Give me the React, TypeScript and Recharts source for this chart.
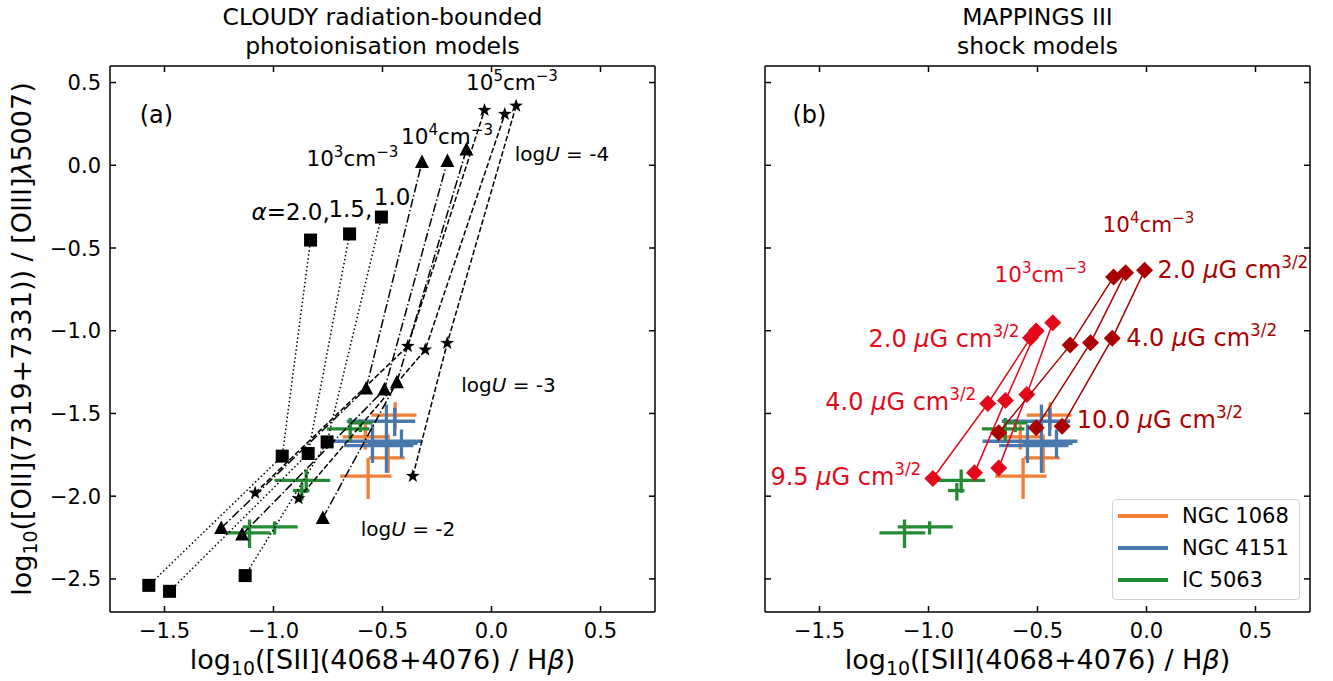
import React from 'react';
import { ScatterChart, Scatter, XAxis, YAxis, ErrorBar, ReferenceDot, Legend } from 'recharts';

const FONT = '"DejaVu Sans", "Liberation Sans", sans-serif';
const ORANGE = '#F07E35';
const BLUE = '#4878AE';
const GREEN = '#238B32';
const RED = '#E4081A';
const DARKRED = '#AA0000';

// axes
const xTicks = [-1.5, -1.0, -0.5, 0.0, 0.5];
const yTicks = [-2.5, -2.0, -1.5, -1.0, -0.5, 0.0, 0.5];
const xDomain = [-1.75, 0.75];
const yDomain = [-2.7, 0.6];

// observations: NGC 1068
const n1068X = [-0.566, -0.474, -0.579, -0.442];
const n1068Y = [-1.879, -1.769, -1.642, -1.510];
const n1068XLo = [0.128, 0.087, 0.104, 0.108];
const n1068XHi = [0.107, 0.076, 0.094, 0.098];
const n1068YLo = [0.138, 0.09, 0.076, 0.087];
const n1068YHi = [0.11, 0.142, 0.075, 0.078];
// NGC 4151
const n4151X = [-0.482, -0.444, -0.546, -0.413];
const n4151Y = [-1.668, -1.547, -1.694, -1.681];
const n4151XLo = [0.27, 0.22, 0.13, 0.156];
const n4151XHi = [0.165, 0.094, 0.188, 0.074];
const n4151YLo = [0.191, 0.09, 0.105, 0.088];
const n4151YHi = [0.222, 0.081, 0.127, 0.084];
// IC 5063
const ic5063X = [-1.110, -0.995, -0.850, -0.870, -0.648, -0.602];
const ic5063Y = [-2.222, -2.186, -1.905, -1.966, -1.593, -1.557];
const ic5063XLo = [0.115, 0.146, 0.145, 0.041, 0.107, 0.043];
const ic5063XHi = [0.095, 0.106, 0.11, 0.035, 0.088, 0.056];
const ic5063YLo = [0.091, 0.046, 0.075, 0.06, 0.075, 0.056];
const ic5063YHi = [0.081, 0.034, 0.066, 0.046, 0.066, 0.021];

// CLOUDY tracks (logU = -2, -3, -4)
const alpha20X = [-1.572, -0.960, -0.830];
const alpha20Y = [-2.539, -1.758, -0.452];
const alpha15X = [-1.477, -0.841, -0.651];
const alpha15Y = [-2.575, -1.742, -0.415];
const alpha10X = [-1.130, -0.754, -0.505];
const alpha10Y = [-2.480, -1.672, -0.313];
const tri1X = [-1.240, -0.575, -0.319];
const tri1Y = [-2.192, -1.349, 0.020];
const tri2X = [-1.144, -0.491, -0.202];
const tri2Y = [-2.232, -1.355, 0.026];
const tri3X = [-0.774, -0.434, -0.115];
const tri3Y = [-2.132, -1.311, 0.095];
const star1X = [-1.084, -0.384, -0.032];
const star1Y = [-1.980, -1.093, 0.333];
const star2X = [-0.885, -0.304, 0.061];
const star2Y = [-2.014, -1.115, 0.309];
const star3X = [-0.361, -0.203, 0.113];
const star3Y = [-1.879, -1.075, 0.359];

// MAPPINGS tracks (B = 9.5/10, 4, 2)
const shk3aX = [-0.980, -0.728, -0.532];
const shk3aY = [-1.893, -1.440, -1.043];
const shk3bX = [-0.789, -0.647, -0.506];
const shk3bY = [-1.859, -1.421, -1.002];
const shk3cX = [-0.678, -0.549, -0.430];
const shk3cY = [-1.829, -1.385, -0.952];
const shk4aX = [-0.678, -0.350, -0.151];
const shk4aY = [-1.617, -1.087, -0.675];
const shk4bX = [-0.506, -0.257, -0.096];
const shk4bY = [-1.587, -1.073, -0.649];
const shk4cX = [-0.387, -0.157, -0.009];
const shk4cY = [-1.577, -1.046, -0.635];

const legendNames = ['NGC 1068', 'NGC 4151', 'IC 5063'];
const legendColors = [ORANGE, BLUE, GREEN];

const pts = (xs: number[], ys: number[]) => xs.map((x, i) => ({ x, y: ys[i] }));
const obs = (xs: number[], ys: number[], xl: number[], xh: number[], yl: number[], yh: number[]) =>
  xs.map((x, i) => ({ x, y: ys[i], ex: [xl[i], xh[i]], ey: [yl[i], yh[i]] }));

const obsSets = [
  { data: obs(n1068X, n1068Y, n1068XLo, n1068XHi, n1068YLo, n1068YHi), color: ORANGE },
  { data: obs(n4151X, n4151Y, n4151XLo, n4151XHi, n4151YLo, n4151YHi), color: BLUE },
  { data: obs(ic5063X, ic5063Y, ic5063XLo, ic5063XHi, ic5063YLo, ic5063YHi), color: GREEN },
];

const fmt = (v: number) => (v < 0 ? '\u2212' : '') + Math.abs(v).toFixed(1);

// shapes
const Square = (p: any) => <rect x={p.cx - 6.5} y={p.cy - 6.5} width={13} height={13} fill="#000" />;
const Tri = (p: any) => (
  <polygon points={`${p.cx},${p.cy - 7.5} ${p.cx - 7},${p.cy + 6} ${p.cx + 7},${p.cy + 6}`} fill="#000" />
);
const Star = (p: any) => {
  const r1 = 7.2, r2 = 2.9;
  const a: string[] = [];
  for (let i = 0; i < 10; i++) {
    const r = i % 2 === 0 ? r1 : r2;
    const ang = -Math.PI / 2 + (i * Math.PI) / 5;
    a.push(`${p.cx + r * Math.cos(ang)},${p.cy + r * Math.sin(ang)}`);
  }
  return <polygon points={a.join(' ')} fill="#000" />;
};
const mkDiamond = (c: string) => (p: any) => (
  <polygon points={`${p.cx},${p.cy - 8.5} ${p.cx + 8.5},${p.cy} ${p.cx},${p.cy + 8.5} ${p.cx - 8.5},${p.cy}`} fill={c} />
);
const Empty = () => <g />;

// ticks
const TS = 21;
const BottomTick = (p: any) => (
  <g>
    <line x1={p.x} x2={p.x} y1={p.y} y2={p.y - 6} stroke="#000" strokeWidth={1.5} />
    <text x={p.x} y={p.y + 26} textAnchor="middle" fontSize={TS} fontFamily={FONT} fill="#000">{fmt(p.payload.value)}</text>
  </g>
);
const TopTick = (p: any) => (
  <line x1={p.x} x2={p.x} y1={p.y} y2={p.y + 6} stroke="#000" strokeWidth={1.5} />
);
const LeftTickLabeled = (p: any) => (
  <g>
    <line x1={p.x} x2={p.x + 6} y1={p.y} y2={p.y} stroke="#000" strokeWidth={1.5} />
    <text x={p.x - 9} y={p.y + 7.5} textAnchor="end" fontSize={TS} fontFamily={FONT} fill="#000">{fmt(p.payload.value)}</text>
  </g>
);
const LeftTickPlain = (p: any) => (
  <line x1={p.x} x2={p.x + 6} y1={p.y} y2={p.y} stroke="#000" strokeWidth={1.5} />
);
const RightTick = (p: any) => (
  <line x1={p.x} x2={p.x - 6} y1={p.y} y2={p.y} stroke="#000" strokeWidth={1.5} />
);

type Seg = { t: string; sup?: boolean; sub?: boolean; it?: boolean };
const rich = (segs: Seg[], fs: number) => {
  let shift = 0;
  return segs.map((s, i) => {
    const target = s.sup ? -0.4 * fs : s.sub ? 0.22 * fs : 0;
    const dy = target - shift;
    shift = target;
    return (
      <tspan key={i} dy={dy} fontSize={s.sup || s.sub ? fs * 0.7 : fs} fontStyle={s.it ? 'italic' : 'normal'}>
        {s.t}
      </tspan>
    );
  });
};

type Ann = { x: number; y: number; segs: Seg[]; fs: number; anchor: string; color: string };

const dens = (n: string): Seg[] => [{ t: '10' }, { t: n, sup: true }, { t: 'cm' }, { t: '\u22123', sup: true }];
const logU = (n: string): Seg[] => [{ t: 'log' }, { t: 'U', it: true }, { t: ' = ' + n }];
const bfield = (n: string): Seg[] => [{ t: n + ' ' }, { t: '\u03bc', it: true }, { t: 'G cm' }, { t: '3/2', sup: true }];

const annLeft: Ann[] = [
  { x: -1.537, y: 0.31, segs: [{ t: '(a)' }], fs: 24, anchor: 'middle', color: '#000' },
  { x: -1.101, y: -0.283, segs: [{ t: '\u03b1', it: true }, { t: '=2.0,' }], fs: 23, anchor: 'start', color: '#000' },
  { x: -0.748, y: -0.262, segs: [{ t: '1.5,' }], fs: 23, anchor: 'start', color: '#000' },
  { x: -0.54, y: -0.19, segs: [{ t: '1.0' }], fs: 23, anchor: 'start', color: '#000' },
  { x: -0.638, y: 0.044, segs: dens('3'), fs: 21.5, anchor: 'middle', color: '#000' },
  { x: -0.204, y: 0.178, segs: dens('4'), fs: 21.5, anchor: 'middle', color: '#000' },
  { x: 0.094, y: 0.504, segs: dens('5'), fs: 21.5, anchor: 'middle', color: '#000' },
  { x: 0.323, y: 0.069, segs: logU('-4'), fs: 20, anchor: 'middle', color: '#000' },
  { x: 0.078, y: -1.329, segs: logU('-3'), fs: 20, anchor: 'middle', color: '#000' },
  { x: -0.383, y: -2.2, segs: logU('-2'), fs: 20, anchor: 'middle', color: '#000' },
];
const annRight: Ann[] = [
  { x: -1.546, y: 0.31, segs: [{ t: '(b)' }], fs: 24, anchor: 'middle', color: '#000' },
  { x: 0.009, y: -0.355, segs: dens('4'), fs: 21.5, anchor: 'middle', color: DARKRED },
  { x: -0.486, y: -0.657, segs: dens('3'), fs: 21.5, anchor: 'middle', color: RED },
  { x: 0.05, y: -0.627, segs: bfield('2.0'), fs: 24, anchor: 'start', color: DARKRED },
  { x: -0.093, y: -1.038, segs: bfield('4.0'), fs: 24, anchor: 'start', color: DARKRED },
  { x: -0.32, y: -1.534, segs: bfield('10.0'), fs: 24, anchor: 'start', color: DARKRED },
  { x: -0.583, y: -1.045, segs: bfield('2.0'), fs: 24, anchor: 'end', color: RED },
  { x: -0.781, y: -1.426, segs: bfield('4.0'), fs: 24, anchor: 'end', color: RED },
  { x: -1.033, y: -1.879, segs: bfield('9.5'), fs: 24, anchor: 'end', color: RED },
];

const renderAnn = (a: Ann, i: number) => (
  <ReferenceDot
    key={'ann' + i}
    xAxisId="b"
    yAxisId="l"
    x={a.x}
    y={a.y}
    r={0}
    fill="none"
    stroke="none"
    ifOverflow="visible"
    label={(p: any) => {
      const vb = p.viewBox || {};
      const cx = (vb.x || 0) + (vb.width || 0) / 2;
      const cy = (vb.y || 0) + (vb.height || 0) / 2;
      return (
        <text x={cx} y={cy + a.fs * 0.36} textAnchor={a.anchor as any} fontFamily={FONT} fontSize={a.fs} fill={a.color}>
          {rich(a.segs, a.fs)}
        </text>
      );
    }}
  />
);

const axes = (labeledY: boolean, yWidth: number) => [
  <XAxis key="xb" xAxisId="b" type="number" dataKey="x" domain={xDomain} ticks={xTicks} allowDataOverflow interval={0}
    orientation="bottom" height={69} tickSize={0} tickMargin={0} tickLine={false}
    axisLine={{ stroke: '#000', strokeWidth: 1.5 }} tick={<BottomTick />} />,
  <XAxis key="xt" xAxisId="t" type="number" dataKey="x" domain={xDomain} ticks={xTicks} allowDataOverflow interval={0}
    orientation="top" height={1} tickSize={0} tickMargin={0} tickLine={false}
    axisLine={{ stroke: '#000', strokeWidth: 1.5 }} tick={<TopTick />} />,
  <YAxis key="yl" yAxisId="l" type="number" dataKey="y" domain={yDomain} ticks={yTicks} allowDataOverflow interval={0}
    orientation="left" width={yWidth} tickSize={0} tickMargin={0} tickLine={false}
    axisLine={{ stroke: '#000', strokeWidth: 1.5 }} tick={labeledY ? <LeftTickLabeled /> : <LeftTickPlain />} />,
  <YAxis key="yr" yAxisId="r" type="number" dataKey="y" domain={yDomain} ticks={yTicks} allowDataOverflow interval={0}
    orientation="right" width={1} tickSize={0} tickMargin={0} tickLine={false}
    axisLine={{ stroke: '#000', strokeWidth: 1.5 }} tick={<RightTick />} />,
];

const obsSeries = (prefix: string) =>
  obsSets.map((s, i) => (
    <Scatter key={prefix + 'obs' + i} xAxisId="b" yAxisId="l" data={s.data} shape={<Empty />} isAnimationActive={false} legendType="none">
      <ErrorBar dataKey="ex" direction="x" stroke={s.color} strokeWidth={3.3} width={0} />
      <ErrorBar dataKey="ey" direction="y" stroke={s.color} strokeWidth={3.3} width={0} />
    </Scatter>
  ));

const DOT = '1.5 2.5';
const DASHDOT = '9 2.5 1.5 2.5';
const DASH = '5.5 2.4';

const leftTracks = [
  { d: pts(alpha20X, alpha20Y), shape: Square, dash: DOT },
  { d: pts(alpha15X, alpha15Y), shape: Square, dash: DOT },
  { d: pts(alpha10X, alpha10Y), shape: Square, dash: DOT },
  { d: pts(tri1X, tri1Y), shape: Tri, dash: DASHDOT },
  { d: pts(tri2X, tri2Y), shape: Tri, dash: DASHDOT },
  { d: pts(tri3X, tri3Y), shape: Tri, dash: DASHDOT },
  { d: pts(star1X, star1Y), shape: Star, dash: DASH },
  { d: pts(star2X, star2Y), shape: Star, dash: DASH },
  { d: pts(star3X, star3Y), shape: Star, dash: DASH },
];
const rightTracks = [
  { d: pts(shk3aX, shk3aY), color: RED },
  { d: pts(shk3bX, shk3bY), color: RED },
  { d: pts(shk3cX, shk3cY), color: RED },
  { d: pts(shk4aX, shk4aY), color: DARKRED },
  { d: pts(shk4bX, shk4bY), color: DARKRED },
  { d: pts(shk4cX, shk4cY), color: DARKRED },
];

const LegendBox = () => (
  <div style={{ width: 188, height: 101, border: '1px solid #d2d2d2', borderRadius: 4, background: 'rgba(255,255,255,0.85)', boxSizing: 'border-box', position: 'relative' }}>
    {legendNames.map((n, i) => (
      <div key={n} style={{ position: 'absolute', left: 5, top: 4 + i * 32, height: 24, display: 'flex', alignItems: 'center' }}>
        <div style={{ width: 50, height: 4, background: legendColors[i] }} />
        <span style={{ marginLeft: 14, fontSize: 21, fontFamily: FONT, color: '#000', lineHeight: '24px', whiteSpace: 'nowrap' }}>{n}</span>
      </div>
    ))}
  </div>
);

export default function App() {
  return (
    <div style={{ position: 'absolute', left: 0, top: 0, width: 1333, height: 681, background: '#fff', overflow: 'hidden' }}>
      <div style={{ position: 'absolute', left: 0, top: 0 }}>
        <ScatterChart width={700} height={681} margin={{ top: 65, right: 44, bottom: 0, left: 0 }}>
          {axes(true, 110)}
          {leftTracks.map((t, i) => (
            <Scatter key={'lt' + i} xAxisId="b" yAxisId="l" data={t.d} shape={t.shape} isAnimationActive={false}
              line={{ stroke: '#000', strokeWidth: 1.5, strokeDasharray: t.dash }} lineType="joint" legendType="none" />
          ))}
          {obsSeries('L')}
          {annLeft.map(renderAnn)}
        </ScatterChart>
      </div>
      <div style={{ position: 'absolute', left: 700, top: 0 }}>
        <ScatterChart width={633} height={681} margin={{ top: 65, right: 22, bottom: 0, left: 0 }}>
          {axes(false, 65)}
          {rightTracks.map((t, i) => (
            <Scatter key={'rt' + i} xAxisId="b" yAxisId="l" data={t.d} shape={mkDiamond(t.color)} isAnimationActive={false}
              line={{ stroke: t.color, strokeWidth: 1.5 }} lineType="joint" legendType="none" />
          ))}
          {obsSeries('R')}
          {annRight.map(renderAnn)}
          <Legend layout="horizontal" verticalAlign="middle" align="center" content={<LegendBox />}
            wrapperStyle={{ position: 'absolute', left: 412, top: 499, width: 188, height: 101 }} />
        </ScatterChart>
      </div>
      <svg width={1333} height={681} style={{ position: 'absolute', left: 0, top: 0, pointerEvents: 'none' }}>
        <g fontFamily={FONT} fill="#000">
          <text x={382.5} y={25} textAnchor="middle" fontSize={23.5}>CLOUDY radiation-bounded</text>
          <text x={382.5} y={54} textAnchor="middle" fontSize={23.5}>photoionisation models</text>
          <text x={1037.5} y={25} textAnchor="middle" fontSize={23.5}>MAPPINGS III</text>
          <text x={1037.5} y={54} textAnchor="middle" fontSize={23.5}>shock models</text>
          <text x={382.5} y={669} textAnchor="middle" fontSize={27}>
            {rich([{ t: 'log' }, { t: '10', sub: true }, { t: '([SII](4068+4076) / H' }, { t: '\u03b2', it: true }, { t: ')' }], 27)}
          </text>
          <text x={1037.5} y={669} textAnchor="middle" fontSize={27}>
            {rich([{ t: 'log' }, { t: '10', sub: true }, { t: '([SII](4068+4076) / H' }, { t: '\u03b2', it: true }, { t: ')' }], 27)}
          </text>
          <text x={31} y={339} textAnchor="middle" fontSize={27} transform="rotate(-90 31 339)">
            {rich([{ t: 'log' }, { t: '10', sub: true }, { t: '([OII](7319+7331)) / [OIII]' }, { t: '\u03bb', it: true }, { t: '5007)' }], 27)}
          </text>
        </g>
      </svg>
    </div>
  );
}
